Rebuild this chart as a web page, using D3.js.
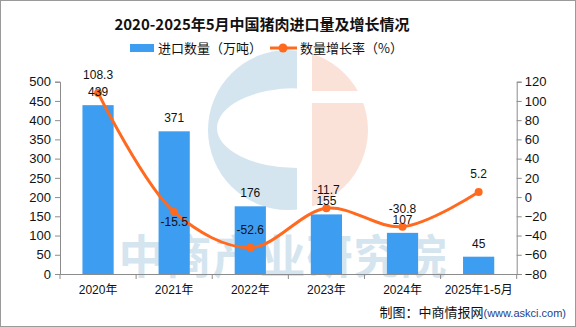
<!DOCTYPE html>
<html><head><meta charset="utf-8">
<script src="https://cdn.jsdelivr.net/npm/d3@7"></script>
<style>body{margin:0;background:#fff}svg{display:block}</style>
</head><body>
<svg id="c" width="576" height="327"></svg>
<script>
const categories = ["2020年","2021年","2022年","2023年","2024年","2025年1-5月"];
const importVolume = [439, 371, 176, 155, 107, 45];
const growthRate = [108.3, -15.5, -52.6, -11.7, -30.8, 5.2];
const leftTicks = [0,50,100,150,200,250,300,350,400,450,500];
const rightTicks = [-80,-60,-40,-20,0,20,40,60,80,100,120];

const svg = d3.select("#c");
const W = 576, H = 327;
const m = {l:60, r:59.3, t:81.7, b:53};
const x0 = m.l, x1 = W - m.r, yTop = m.t, yBot = H - m.b;
const font = "'Liberation Sans','Noto Sans CJK SC',sans-serif";
const cjk = "'Noto Sans CJK SC',sans-serif";
const barColor = "#3d9df0", lineColor = "#ff6a1f", axisColor = "#8c8c8c";

svg.append("rect").attr("x",0.5).attr("y",0.5).attr("width",W-1).attr("height",H-1)
  .attr("fill","#fff").attr("stroke","#9a9a9a");

// watermark
const wm = svg.append("g");
const defs = svg.append("defs");
defs.append("clipPath").attr("id","wmc").append("circle").attr("cx",288).attr("cy",130).attr("r",80);
const wg = wm.append("g").attr("clip-path","url(#wmc)");
// blue C
const ex = 297, ey = 128, rx = 80, ry = 40;
wg.append("path").attr("fill-rule","evenodd").attr("fill","#d4e5ef")
  .attr("d", `M200,40H${ex}V220H200Z M${ex},${ey-ry} A${rx},${ry} 0 1,0 ${ex},${ey+ry} Z`);
// orange i
wg.append("rect").attr("x",312).attr("y",40).attr("width",70).attr("height",51).attr("fill","#fbe2d8");
wg.append("rect").attr("x",312).attr("y",103).attr("width",70).attr("height",120).attr("fill","#fbe2d8");
wm.append("text").attr("x",283).attr("y",273).attr("text-anchor","middle")
  .attr("font-family",cjk).attr("font-weight","bold").attr("font-size",46)
  .attr("letter-spacing",1).attr("fill","#d4e5ef").text("中商产业研究院");

const x = d3.scaleBand().domain(categories).range([x0, x1]).paddingInner(0.59).paddingOuter(0.295);
const xb = d3.scaleBand().domain(categories).range([x0, x1]);
const yL = d3.scaleLinear().domain([0,500]).range([yBot, yTop]);
const yR = d3.scaleLinear().domain([-80,120]).range([yBot, yTop]);

// bars
svg.append("g").selectAll("rect").data(importVolume).join("rect")
  .attr("x",(d,i)=>x(categories[i])).attr("width",x.bandwidth())
  .attr("y",d=>yL(d)).attr("height",d=>yBot-yL(d)).attr("fill",barColor);

// axes
const axL = svg.append("g").attr("transform",`translate(${x0},0)`)
  .call(d3.axisLeft(yL).tickValues(leftTicks).tickSize(5).tickPadding(4));
const axR = svg.append("g").attr("transform",`translate(${x1},0)`)
  .call(d3.axisRight(yR).tickValues(rightTicks).tickSize(5).tickPadding(3));
const axB = svg.append("g").attr("transform",`translate(0,${yBot})`)
  .call(d3.axisBottom(xb).tickSize(0).tickPadding(11));
[axL,axR,axB].forEach(a=>{
  a.select(".domain").attr("stroke",axisColor);
  a.selectAll(".tick line").attr("stroke",axisColor);
  a.selectAll("text").attr("fill","#111").attr("font-family",font);
});
axL.selectAll("text").attr("font-size",13);
axR.selectAll("text").attr("font-size",13);
axB.selectAll("text").attr("font-size",12);
// category boundary ticks
svg.append("g").selectAll("line").data(categories.slice(1)).join("line")
  .attr("x1",d=>xb(d)).attr("x2",d=>xb(d)).attr("y1",yBot).attr("y2",yBot+5).attr("stroke",axisColor);
svg.append("line").attr("x1",x1).attr("x2",x1).attr("y1",yBot).attr("y2",yBot+5).attr("stroke",axisColor);
svg.append("line").attr("x1",x0).attr("x2",x0).attr("y1",yBot).attr("y2",yBot+5).attr("stroke",axisColor);

const cx = i => xb(categories[i]) + xb.bandwidth()/2;

// line
const line = d3.line().x((d,i)=>cx(i)).y(d=>yR(d)).curve(d3.curveCatmullRom.alpha(0.5));
svg.append("path").datum(growthRate).attr("d",line).attr("fill","none")
  .attr("stroke",lineColor).attr("stroke-width",3);
svg.append("g").selectAll("circle").data(growthRate).join("circle")
  .attr("cx",(d,i)=>cx(i)).attr("cy",d=>yR(d)).attr("r",4).attr("fill",lineColor);

// labels
svg.append("g").selectAll("text").data(importVolume).join("text")
  .attr("x",(d,i)=>cx(i)).attr("y",d=>yL(d)-9).attr("text-anchor","middle")
  .attr("font-family",font).attr("font-size",12).attr("fill","#111").text(d=>d);
svg.append("g").selectAll("text").data(growthRate).join("text")
  .attr("x",(d,i)=>cx(i)).attr("y",(d,i)=> i===1 ? yR(d)+14 : yR(d)-14).attr("text-anchor","middle")
  .attr("font-family",font).attr("font-size",12).attr("fill","#111").text(d=>d.toFixed(1));

// title
svg.append("text").attr("x",262).attr("y",30).attr("text-anchor","middle")
  .attr("font-family",cjk).attr("font-weight","bold").attr("font-size",15).attr("fill","#111")
  .text("2020-2025年5月中国猪肉进口量及增长情况");

// legend
svg.append("rect").attr("x",130).attr("y",44).attr("width",24).attr("height",8).attr("fill",barColor);
svg.append("text").attr("x",158).attr("y",53).attr("font-family",cjk).attr("font-size",13).attr("fill","#111")
  .text("进口数量（万吨）");
svg.append("line").attr("x1",270).attr("x2",297).attr("y1",48).attr("y2",48).attr("stroke",lineColor).attr("stroke-width",3);
svg.append("circle").attr("cx",283).attr("cy",48).attr("r",4.5).attr("fill",lineColor);
svg.append("text").attr("x",300).attr("y",53).attr("font-family",cjk).attr("font-size",13).attr("fill","#111")
  .text("数量增长率（%）");

// footer
const ft = svg.append("text").attr("x",566).attr("y",317).attr("text-anchor","end").attr("font-family",cjk);
ft.append("tspan").attr("font-size",13).attr("fill","#111").text("制图：中商情报网");
ft.append("tspan").attr("font-size",11).attr("fill","#1c3f8c").attr("font-family",font).text("(www.askci.com)");
</script>
</body></html>
